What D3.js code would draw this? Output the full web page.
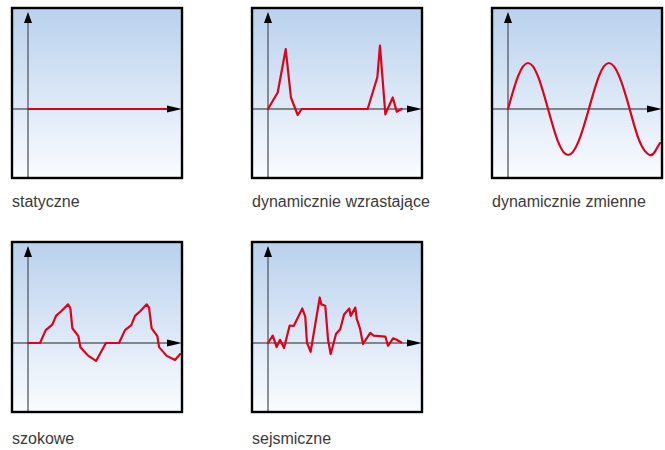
<!DOCTYPE html>
<html>
<head>
<meta charset="utf-8">
<script src="https://cdn.jsdelivr.net/npm/d3@7"></script>
<style>
  html, body { margin: 0; padding: 0; background: #fff; }
  svg { display: block; }
</style>
</head>
<body>
<svg id="chart" width="665" height="450"></svg>
<script>
// ---- Data ----
const titles = ["statyczne", "dynamicznie wzrastające", "dynamicznie zmienne", "szokowe", "sejsmiczne"];

const staticX = [0, 91];
const staticY = [0, 0];

const risingX = [0, 6.3, 11.5, 14.9, 19.3, 21.9, 64.7, 71, 72.7, 76.2, 81, 83.6, 86.8];
const risingY = [0, 0.36, 1.30, 0.25, -0.13, 0, 0, 0.69, 1.38, -0.115, 0.25, -0.06, 0];

const varyingX = [0, 6.5, 13, 19.5, 26, 32.5, 39, 45.75, 52.5, 59, 65.5, 72.25, 79, 85.5, 92, 95.5, 98.7];
const varyingY = [0, 0.71, 1, 0.71, 0, -0.71, -1, -0.71, 0, 0.71, 1, 0.71, 0, -0.71, -1, -0.92, -0.74];

const shockX = [0, 7.8, 11.5, 15.8, 18.2, 21.9, 26.0, 27.5, 28.8, 32.7, 34.0, 39.2, 44.2, 50.6,
                59.1, 63.0, 67.1, 69.5, 73.2, 77.1, 78.6, 80.3, 84.0, 85.1, 90.1, 95.5, 98.8];
const shockY = [0, 0, 0.28, 0.40, 0.59, 0.70, 0.84, 0.76, 0.32, 0.15, -0.09, -0.28, -0.39, 0,
                0, 0.28, 0.39, 0.59, 0.70, 0.84, 0.77, 0.32, 0.15, -0.09, -0.28, -0.37, -0.24];

const seismicX = [0, 3.1, 5.6, 7.8, 10.4, 14.1, 16.7, 22.3, 24.2, 25.3, 27.7, 33.6, 34.6, 37.2, 39.0,
                  40.7, 44.2, 46.9, 49.4, 52.8, 53.7, 56.7, 57.6, 59.7, 61.7, 66.4, 68.6, 76.2, 77.9,
                  81.2, 83.6, 86.6];
const seismicY = [0, 0.16, -0.09, 0.07, -0.11, 0.38, 0.37, 0.75, 0.57, 0.01, -0.19, 0.99, 0.84, 0.81, 0.07,
                  -0.24, 0.20, 0.30, 0.62, 0.75, 0.59, 0.77, 0.53, 0.32, -0.02, 0.22, 0.16, 0.14, -0.06,
                  0.10, 0.07, 0.01];

const series = [
  {x: staticX, y: staticY, curve: d3.curveLinear},
  {x: risingX, y: risingY, curve: d3.curveLinear},
  {x: varyingX, y: varyingY, curve: d3.curveNatural},
  {x: shockX, y: shockY, curve: d3.curveLinear},
  {x: seismicX, y: seismicY, curve: d3.curveLinear}
];

// ---- Layout ----
const svg = d3.select("#chart");
const boxW = 170, boxH = 170;
const origins = [[12, 8], [252, 8], [492, 8], [12, 242], [252, 242]];
const labelBaselines = [207, 207, 207, 444, 444];

const defs = svg.append("defs");
const grad = defs.append("linearGradient")
  .attr("id", "bg").attr("x1", 0).attr("y1", 0).attr("x2", 0).attr("y2", 1);
grad.append("stop").attr("offset", "0%").attr("stop-color", "#b9d1ed");
grad.append("stop").attr("offset", "100%").attr("stop-color", "#fafcff");

const x = d3.scaleLinear().domain([0, 100]).range([16, 170]);
const y = d3.scaleLinear().domain([-1, 1]).range([147, 55]);

const axisColor = "#5f6468";

origins.forEach(([ox, oy], i) => {
  const g = svg.append("g").attr("transform", `translate(${ox},${oy})`);

  g.append("rect").attr("x", 0).attr("y", 0).attr("width", boxW).attr("height", boxH)
    .attr("fill", "url(#bg)");

  const x0 = x(0), y0 = y(0);
  // axes lines
  g.append("line").attr("x1", x0).attr("x2", x0).attr("y1", 10).attr("y2", boxH)
    .attr("stroke", axisColor).attr("stroke-width", 1.4);
  g.append("line").attr("x1", 0).attr("x2", boxW - 8).attr("y1", y0).attr("y2", y0)
    .attr("stroke", axisColor).attr("stroke-width", 1.4);

  // series
  const s = series[i];
  const pts = s.x.map((v, k) => [v, s.y[k]]);
  const line = d3.line().x(d => x(d[0])).y(d => y(d[1])).curve(s.curve);
  g.append("path").attr("d", line(pts)).attr("fill", "none")
    .attr("stroke", "#e1001a").attr("stroke-width", 2.2)
    .attr("stroke-linejoin", "round").attr("stroke-linecap", "round");

  // arrowheads
  g.append("path")
    .attr("d", `M${x0},${4} L${x0 - 4},${15} L${x0 + 4},${15} Z`)
    .attr("fill", "#000");
  g.append("path")
    .attr("d", `M${boxW},${y0} L${boxW - 15},${y0 - 3.5} L${boxW - 15},${y0 + 3.5} Z`)
    .attr("fill", "#000");

  // border
  g.append("rect").attr("x", 0).attr("y", 0).attr("width", boxW).attr("height", boxH)
    .attr("fill", "none").attr("stroke", "#000").attr("stroke-width", 2.4);

  // label
  svg.append("text")
    .attr("x", ox).attr("y", labelBaselines[i])
    .attr("font-family", "'Liberation Sans', Arial, sans-serif")
    .attr("font-size", 16).attr("fill", "#3a3a3a")
    .text(titles[i]);
});
</script>
</body>
</html>
